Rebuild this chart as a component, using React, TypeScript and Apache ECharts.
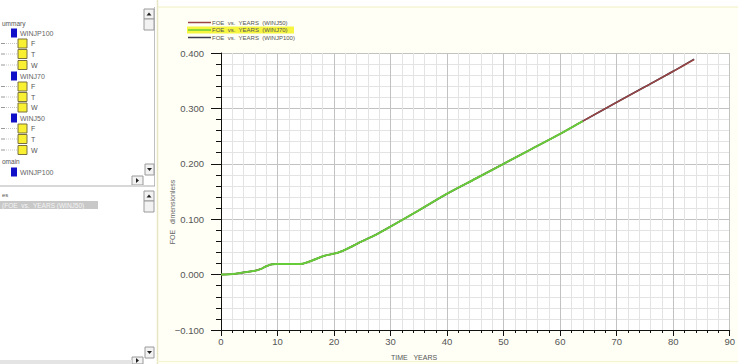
import React, { useEffect, useRef } from "react";
import * as echarts from "echarts";

// ---- data ----
const years = [0, 2, 4, 6, 7, 8, 9, 10, 12, 14, 16, 18.3, 20.8, 22.8, 24.5, 27, 29.6, 35, 40, 45, 50, 55, 60, 64, 70, 75, 80, 83.7];
const foeWINJ50 = [0, 0.001, 0.004, 0.007, 0.01, 0.015, 0.0185, 0.019, 0.019, 0.019, 0.025, 0.034, 0.04, 0.049, 0.058, 0.07, 0.0845, 0.116, 0.146, 0.173, 0.2, 0.227, 0.254, 0.277, 0.311, 0.339, 0.367, 0.388];
const foeWINJP100 = [0, 0.001, 0.004, 0.007, 0.01, 0.015, 0.0185, 0.019, 0.019, 0.019, 0.025, 0.034, 0.04, 0.049, 0.058, 0.07, 0.0845, 0.116, 0.146, 0.173, 0.2, 0.227, 0.254, 0.277, 0.311, 0.339, 0.367, 0.389];
const winj70Count = 24; // WINJ70 stops at 64 years
const foeWINJ70 = foeWINJ50.slice(0, winj70Count);
const years70 = years.slice(0, winj70Count);

const seriesNames = ["FOE vs. YEARS (WINJ50)", "FOE vs. YEARS (WINJ70)", "FOE vs. YEARS (WINJP100)"];
const seriesColors = ["#9a4444", "#66cc3a", "#3a3a4a"];

const treeRows: [string, string][] = [
  ["head", "ummary"],
  ["blue", "WINJP100"], ["yellow", "F"], ["yellow", "T"], ["yellow", "W"],
  ["blue", "WINJ70"], ["yellow", "F"], ["yellow", "T"], ["yellow", "W"],
  ["blue", "WINJ50"], ["yellow", "F"], ["yellow", "T"], ["yellow", "W"],
  ["head", "omain"],
  ["blue", "WINJP100"],
];

const FONT = "Liberation Sans";

function scrollBox(x: number, y: number, w: number, h: number, dir: string | null) {
  const els: any[] = [
    { type: "rect", shape: { x, y, width: w, height: h }, style: { fill: "#f2f2f2", stroke: "#9a9a9a", lineWidth: 1 } },
  ];
  const cx = x + w / 2, cy = y + h / 2;
  if (dir === "up") els.push({ type: "polygon", shape: { points: [[cx - 2.5, cy + 1.5], [cx + 2.5, cy + 1.5], [cx, cy - 1.5]] }, style: { fill: "#222" } });
  if (dir === "down") els.push({ type: "polygon", shape: { points: [[cx - 2.5, cy - 1.5], [cx + 2.5, cy - 1.5], [cx, cy + 1.5]] }, style: { fill: "#222" } });
  if (dir === "right") els.push({ type: "polygon", shape: { points: [[cx - 1.5, cy - 2.5], [cx - 1.5, cy + 2.5], [cx + 1.5, cy]] }, style: { fill: "#222" } });
  return els;
}

export default function App() {
  const ref = useRef<HTMLDivElement>(null);
  useEffect(() => {
    if (!ref.current) return;
    const chart = echarts.init(ref.current, null, { renderer: "svg" });

    const graphics: any[] = [];
    // left panel background
    graphics.push({ type: "rect", shape: { x: 0, y: 0, width: 157, height: 364 }, style: { fill: "#ffffff" } });
    graphics.push({ type: "rect", shape: { x: 157, y: 0, width: 581, height: 7 }, style: { fill: "#ffffff" } });
    graphics.push({ type: "line", shape: { x1: 157, y1: 7, x2: 738, y2: 7 }, style: { stroke: "#f0f0c0", lineWidth: 1 } });
    graphics.push({ type: "line", shape: { x1: 157.5, y1: 0, x2: 157.5, y2: 364 }, style: { stroke: "#e6e6c4", lineWidth: 1.5 } });
    graphics.push({ type: "line", shape: { x1: 157, y1: 361.5, x2: 738, y2: 361.5 }, style: { stroke: "#f4f4d0", lineWidth: 1 } });

    // tree rows
    const rowYs = [23, 33, 43.5, 54, 65, 76, 86.5, 97, 107.5, 118, 128.5, 139, 150, 161.5, 172];
    treeRows.forEach(([kind, label], i) => {
      const y = rowYs[i];
      if (kind === "head") {
        graphics.push({ type: "text", x: 2, y, style: { text: label, font: `6.5px ${FONT}`, fill: "#555", verticalAlign: "middle" } });
      } else if (kind === "blue") {
        graphics.push({ type: "rect", shape: { x: 11, y: y - 4.5, width: 6, height: 9 }, style: { fill: "#1010c8" } });
        graphics.push({ type: "text", x: 20, y, style: { text: label, font: `7px ${FONT}`, fill: "#666", verticalAlign: "middle" } });
      } else {
        graphics.push({ type: "line", shape: { x1: 1, y1: y, x2: 5, y2: y }, style: { stroke: "#999", lineWidth: 1 } });
        graphics.push({ type: "line", shape: { x1: 6, y1: y, x2: 18, y2: y }, style: { stroke: "#bbb", lineWidth: 0.8, lineDash: [1, 1] } });
        graphics.push({ type: "rect", shape: { x: 18, y: y - 4.5, width: 9, height: 9 }, style: { fill: "#f8f030", stroke: "#7a7040", lineWidth: 1 } });
        graphics.push({ type: "text", x: 31, y, style: { text: label, font: `7px ${FONT}`, fill: "#555", verticalAlign: "middle" } });
      }
    });

    // top panel scrollbars
    graphics.push({ type: "line", shape: { x1: 154.5, y1: 7, x2: 154.5, y2: 186 }, style: { stroke: "#c0c0c0", lineWidth: 1 } });
    graphics.push(...scrollBox(144, 9, 10, 10, "up"));
    graphics.push(...scrollBox(144, 19, 10, 11, null));
    graphics.push(...scrollBox(145, 164, 9, 11, "down"));
    graphics.push(...scrollBox(132, 176, 11, 9, "right"));
    graphics.push({ type: "rect", shape: { x: 0, y: 185, width: 143, height: 2 }, style: { fill: "#d8d8d8" } });
    graphics.push({ type: "line", shape: { x1: 143, y1: 186, x2: 155, y2: 186 }, style: { stroke: "#aaa", lineWidth: 1 } });

    // second panel
    graphics.push({ type: "text", x: 2, y: 195, style: { text: "es", font: `6px ${FONT}`, fill: "#555", verticalAlign: "middle" } });
    graphics.push({ type: "rect", shape: { x: 0, y: 201, width: 98, height: 8 }, style: { fill: "#c8c8c8" } });
    graphics.push({ type: "text", x: 2, y: 205, style: { text: "(FOE  vs.  YEARS (WINJ50)", font: `6.5px ${FONT}`, fill: "#f4f4f4", verticalAlign: "middle" } });
    graphics.push(...scrollBox(144, 191, 10, 10, "up"));
    graphics.push(...scrollBox(144, 201, 10, 11, null));
    graphics.push(...scrollBox(145, 347, 9, 11, "down"));
    graphics.push(...scrollBox(132, 357, 11, 7, "right"));
    graphics.push({ type: "rect", shape: { x: 0, y: 360, width: 132, height: 4 }, style: { fill: "#e4e4e4" } });

    // legend
    const legYs = [22.5, 30, 37.5];
    graphics.push({ type: "rect", shape: { x: 187, y: 26.5, width: 107, height: 7 }, style: { fill: "#f6f640" } });
    seriesNames.forEach((name, i) => {
      graphics.push({ type: "line", shape: { x1: 188, y1: legYs[i], x2: 211, y2: legYs[i] }, style: { stroke: seriesColors[i], lineWidth: 1.5 } });
      graphics.push({ type: "text", x: 212, y: legYs[i], style: { text: name.replace(/ /g, "  "), font: `6px ${FONT}`, fill: "#555", verticalAlign: "middle" } });
    });

    // axis names
    graphics.push({ type: "text", x: 391, y: 357, style: { text: "TIME   YEARS", font: `7px ${FONT}`, fill: "#555", verticalAlign: "middle" } });
    graphics.push({ type: "text", x: 172, y: 212, rotation: Math.PI / 2, style: { text: "FOE   dimensionless", font: `7px ${FONT}`, fill: "#666", align: "center", verticalAlign: "middle" } });

    const toPairs = (xs: number[], ys: number[]) => xs.map((x, i) => [x, ys[i]]);

    chart.setOption({
      animation: false,
      backgroundColor: "#fffff6",
      graphic: { elements: graphics },
      grid: { left: 221, top: 53, width: 528, height: 277, show: true, backgroundColor: "#ffffff", borderWidth: 0 },
      xAxis: {
        type: "value", min: 0, max: 90, interval: 10,
        axisLine: { show: true, onZero: false, lineStyle: { color: "#111", width: 1 } },
        axisTick: { show: true, inside: false, length: 6, lineStyle: { color: "#111" } },
        minorTick: { show: true, splitNumber: 5, length: 3, lineStyle: { color: "#111" } },
        splitLine: { show: true, lineStyle: { color: "#c2c2c2", width: 1 } },
        minorSplitLine: { show: true, lineStyle: { color: "#e3e3e3", width: 1 } },
        axisLabel: { margin: 6, fontFamily: FONT, fontSize: 9.5, color: "#555" },
      },
      yAxis: {
        type: "value", min: -0.1, max: 0.4, interval: 0.1,
        axisLine: { show: true, onZero: false, lineStyle: { color: "#111", width: 1 } },
        axisTick: { show: true, inside: false, length: 10, lineStyle: { color: "#111" } },
        minorTick: { show: true, splitNumber: 5, length: 5, lineStyle: { color: "#111" } },
        splitLine: { show: true, lineStyle: { color: "#c2c2c2", width: 1 } },
        minorSplitLine: { show: true, lineStyle: { color: "#e3e3e3", width: 1 } },
        axisLabel: { margin: 17, fontFamily: FONT, fontSize: 9.5, color: "#555", formatter: (v: number) => (Math.abs(v) < 1e-9 ? 0 : v).toFixed(3).replace("-", "\u2212") },
      },
      series: [
        { name: seriesNames[2], type: "line", showSymbol: false, smooth: 0.3, data: toPairs(years, foeWINJP100), lineStyle: { color: seriesColors[2], width: 1.6 }, z: 2 },
        { name: seriesNames[0], type: "line", showSymbol: false, smooth: 0.3, data: toPairs(years, foeWINJ50), lineStyle: { color: seriesColors[0], width: 1.5 }, z: 3 },
        { name: seriesNames[1], type: "line", showSymbol: false, smooth: 0.3, data: toPairs(years70, foeWINJ70), lineStyle: { color: seriesColors[1], width: 2 }, z: 4 },
      ],
    });
    return () => chart.dispose();
  }, []);
  return <div ref={ref} style={{ position: "fixed", left: 0, top: 0, width: 738, height: 364 }} />;
}
